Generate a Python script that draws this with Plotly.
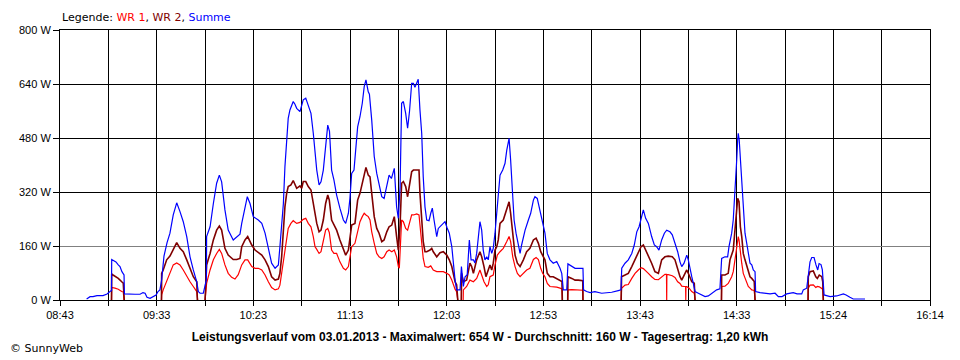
import plotly.graph_objects as go

# ---------------- data ----------------
x_labels = ["08:43", "09:33", "10:23", "11:13", "12:03", "12:53", "13:43", "14:33", "15:24", "16:14"]
y_ticks = [0, 160, 320, 480, 640, 800]
y_labels = ["0 W", "160 W", "320 W", "480 W", "640 W", "800 W"]

series_names = ["WR 1", "WR 2", "Summe"]
series_colors = ["#FF0000", "#800000", "#0000FF"]

# times in minutes after midnight, power in W
summe_t = [536.8, 538.6, 540.1, 542.2, 545.3, 547.4, 548.9, 549.7, 549.8, 550.5, 552.0, 553.1, 554.1, 555.1, 556.2, 556.4, 558.3, 561.9, 564.5, 566.0, 567.1, 568.1, 569.7, 571.2, 572.8, 573.8, 574.8, 575.7, 576.9, 578.5, 580.0, 581.7, 583.5, 585.2, 586.9, 588.7, 590.4, 592.1, 593.9, 594.7, 595.6, 597.3, 598.2, 598.9, 599.0, 600.8, 602.5, 604.2, 605.6, 606.8, 608.5, 610.2, 612.8, 614.6, 616.3, 617.2, 618.9, 620.1, 621.5, 623.2, 625.8, 627.6, 629.3, 630.2, 631.0, 631.9, 632.7, 634.5, 636.2, 637.0, 638.8, 639.6, 640.5, 641.3, 642.2, 643.9, 644.8, 645.7, 647.4, 649.1, 650.4, 651.7, 653.1, 654.3, 655.2, 656.1, 657.3, 658.3, 659.5, 660.7, 661.8, 662.7, 663.8, 665.0, 666.4, 668.1, 669.9, 671.1, 672.5, 673.3, 674.2, 675.4, 677.3, 678.5, 679.7, 680.7, 681.6, 682.8, 683.4, 684.6, 685.9, 687.2, 688.4, 689.8, 691.0, 692.4, 693.6, 694.8, 696.3, 697.5, 698.4, 699.3, 700.1, 701.0, 702.2, 703.2, 704.2, 705.3, 706.2, 707.0, 708.7, 709.6, 710.5, 711.3, 712.2, 713.1, 714.3, 715.2, 716.0, 716.9, 718.3, 719.1, 720.9, 722.6, 723.6, 724.8, 726.1, 726.9, 727.8, 728.6, 730.4, 731.1, 732.1, 733.0, 734.1, 735.2, 736.1, 737.3, 738.1, 739.0, 739.8, 740.7, 741.6, 742.4, 743.3, 744.2, 745.0, 745.9, 746.8, 747.6, 748.5, 749.4, 750.2, 751.1, 752.5, 753.7, 754.6, 755.8, 756.6, 757.5, 758.4, 759.4, 760.6, 761.5, 762.3, 763.2, 764.1, 765.8, 767.0, 768.4, 769.2, 770.4, 771.8, 773.2, 774.4, 775.6, 777.0, 778.7, 780.5, 782.2, 783.1, 783.9, 785.7, 786.3, 788.3, 790.0, 791.7, 793.4, 794.1, 794.4, 796.0, 797.8, 800.3, 803.8, 809.0, 812.4, 813.8, 814.2, 815.9, 817.6, 819.4, 820.7, 822.0, 823.2, 824.6, 825.4, 826.6, 828.0, 829.7, 831.1, 832.3, 833.5, 834.9, 836.3, 837.5, 839.2, 840.4, 841.8, 843.2, 844.4, 845.3, 846.5, 847.9, 848.7, 849.6, 850.5, 851.3, 852.2, 853.9, 855.7, 857.4, 859.1, 860.8, 863.4, 865.1, 866.0, 867.7, 869.1, 869.8, 871.2, 872.0, 872.9, 873.8, 874.3, 874.6, 875.1, 875.7, 876.4, 877.2, 878.1, 879.0, 879.8, 880.7, 881.6, 882.4, 883.3, 883.6, 885.9, 888.5, 891.1, 893.7, 895.4, 897.3, 899.7, 903.1, 905.1, 907.5, 908.3, 910.1, 910.9, 911.8, 912.7, 913.9, 914.9, 915.8, 916.5, 917.5, 918.2, 918.7, 919.1, 922.2, 925.6, 929.1, 930.5, 932.5, 934.2, 940.3]
summe_w = [3, 10, 10, 13, 13, 18, 25, 28, 120, 118, 113, 105, 99, 84, 74, 18, 17, 17, 17, 22, 20, 8, 5, 10, 15, 25, 30, 60, 130, 170, 198, 252, 288, 262, 232, 188, 128, 89, 54, 25, 20, 20, 44, 60, 188, 217, 286, 346, 370, 350, 267, 207, 178, 186, 195, 227, 276, 306, 286, 247, 237, 227, 198, 173, 153, 128, 109, 94, 104, 158, 286, 395, 474, 538, 563, 588, 580, 568, 558, 593, 598, 578, 553, 494, 425, 385, 341, 350, 385, 464, 518, 500, 385, 356, 311, 272, 237, 227, 257, 301, 375, 385, 513, 543, 583, 632, 652, 617, 610, 533, 425, 375, 341, 306, 301, 341, 370, 360, 390, 276, 242, 336, 583, 588, 553, 509, 560, 642, 642, 630, 654, 563, 494, 365, 276, 237, 235, 257, 272, 237, 188, 212, 222, 232, 215, 198, 158, 99, 59, 30, 30, 99, 40, 69, 75, 178, 119, 119, 110, 138, 178, 232, 207, 148, 119, 128, 119, 158, 138, 153, 198, 257, 296, 370, 385, 405, 444, 479, 415, 316, 237, 198, 158, 138, 163, 188, 207, 237, 257, 296, 306, 301, 262, 227, 198, 138, 119, 109, 114, 94, 79, 30, 30, 107, 99, 94, 94, 94, 94, 30, 25, 22, 25, 20, 23, 28, 30, 94, 109, 119, 138, 163, 202, 217, 252, 267, 242, 227, 188, 163, 158, 148, 178, 198, 207, 202, 193, 168, 143, 113, 99, 109, 133, 119, 89, 69, 49, 25, 20, 15, 10, 12, 20, 30, 33, 123, 128, 128, 158, 198, 237, 316, 415, 474, 494, 474, 415, 336, 257, 198, 168, 138, 109, 104, 89, 84, 25, 22, 20, 18, 20, 10, 10, 18, 22, 18, 18, 30, 35, 69, 113, 126, 126, 104, 89, 108, 105, 89, 44, 15, 10, 12, 18, 15, 8, 3, 3]

wr2_t = [549.7, 549.8, 550.5, 551.5, 553.2, 555.0, 555.8, 556.3, None,
         575.6, 575.7, 576.5, 578.3, 580.0, 581.7, 583.5, 585.2, 586.9, 588.7, 590.4, 592.1, 593.9, 594.2, None,
         598.2, 598.4, 599.0, 600.8, 602.5, 604.2, 605.6, 606.8, 608.5, 610.2, 612.8, 614.6, 616.3, 617.2, 618.9, 620.3, 622.4, 624.1, 627.6, 629.3, 631.0, 632.7, 634.5, 636.2, 637.0, 637.9, 638.8, 639.6, 640.5, 641.3, 642.7, 643.9, 645.7, 647.4, 648.3, 649.1, 650.4, 651.7, 653.1, 654.3, 655.2, 656.1, 657.3, 658.3, 659.5, 660.7, 661.8, 662.6, 663.8, 665.0, 666.4, 668.1, 669.9, 671.1, 672.5, 673.3, 674.2, 675.9, 677.3, 678.5, 679.7, 680.7, 681.6, 682.8, 683.7, 684.6, 685.9, 687.2, 688.4, 689.8, 691.0, 692.4, 693.6, 695.0, 696.3, 697.5, 698.4, 699.3, 700.1, 701.0, 702.2, 703.2, 704.4, 705.3, 706.2, 707.9, 709.1, 709.6, 710.5, 711.3, 712.2, 713.1, 714.8, 715.7, 716.5, 718.3, 720.0, 721.7, 723.5, 724.8, 726.1, 726.9, 727.8, 728.6, 729.2, None,
         731.0, 731.2, 732.1, 733.8, 735.5, 736.4, 737.3, 739.0, 740.7, 741.6, 742.8, 743.8, 745.0, 745.9, 746.8, 747.6, 748.5, 749.4, 750.2, 751.1, 752.8, 754.6, 755.8, 756.6, 757.7, 758.9, 760.1, 761.5, 763.2, 764.9, 766.6, 768.4, 769.8, 771.0, 772.2, 773.2, 774.4, 775.6, 777.0, 778.7, 780.5, 782.2, 783.2, 783.4, None,
         786.2, 786.3, 788.3, 790.0, 791.7, 793.4, 794.0, 794.1, None,
         813.9, 814.1, 815.9, 817.6, 819.4, 821.1, 822.8, 824.2, 825.4, 826.6, 828.0, 829.7, 831.4, 833.2, 834.9, 836.6, 838.3, 840.4, 841.8, 843.2, 844.4, 845.3, 846.5, 847.9, 849.1, 850.5, 851.8, 852.2, None,
         865.9, 866.0, 867.7, 869.4, 870.3, 871.2, 872.0, 872.9, 873.8, 874.3, 875.0, 875.7, 876.4, 877.2, 878.1, 879.0, 879.8, 880.7, 881.6, 882.4, 882.9, 883.3, None,
         910.8, 910.9, 911.8, 913.5, 914.8, 915.6, 916.6, 917.9, 918.4, 918.7]
wr2_w = [0, 77, 74, 70, 64, 54, 50, 0, None,
         0, 79, 89, 119, 130, 148, 170, 153, 143, 119, 94, 69, 54, 0, None,
         0, 40, 104, 138, 178, 207, 219, 207, 153, 133, 120, 120, 123, 158, 178, 188, 163, 148, 133, 119, 99, 69, 59, 62, 79, 128, 217, 276, 316, 336, 341, 354, 331, 338, 331, 351, 351, 336, 326, 286, 247, 227, 202, 207, 237, 286, 311, 296, 237, 222, 207, 178, 148, 133, 148, 178, 222, 227, 296, 316, 346, 375, 393, 370, 365, 316, 247, 212, 198, 173, 178, 202, 217, 222, 247, 188, 148, 222, 346, 351, 336, 306, 346, 380, 385, 385, 385, 316, 237, 173, 143, 143, 148, 153, 143, 128, 140, 143, 133, 119, 99, 74, 54, 45, 0, None,
         0, 79, 54, 59, 109, 99, 79, 119, 143, 128, 99, 69, 89, 104, 89, 109, 148, 158, 178, 227, 237, 267, 291, 257, 188, 133, 109, 99, 119, 143, 153, 178, 183, 168, 143, 133, 119, 79, 69, 69, 64, 59, 55, 0, None,
         0, 69, 64, 59, 59, 57, 57, 0, None,
         0, 69, 74, 79, 99, 119, 138, 158, 163, 148, 133, 109, 84, 79, 119, 128, 130, 128, 119, 89, 69, 59, 74, 89, 74, 54, 50, 0, None,
         0, 74, 74, 79, 119, 138, 148, 207, 276, 301, 291, 217, 188, 138, 119, 99, 89, 69, 64, 59, 55, 0, None,
         0, 69, 84, 86, 69, 64, 74, 69, 54, 0]

wr1_t = [549.7, 549.8, 551.5, 553.2, 555.0, 555.8, 556.2, None,
         575.6, 575.7, 576.5, 578.3, 579.1, 580.0, 580.9, 581.7, 583.5, 585.2, 586.9, 588.7, 590.4, 592.1, 593.9, 594.4, None,
         598.2, 599.0, 600.8, 602.5, 604.2, 605.6, 606.8, 608.5, 610.2, 612.0, 613.7, 615.4, 617.2, 618.9, 620.3, 622.4, 624.1, 625.8, 627.6, 629.3, 631.0, 632.7, 634.5, 636.2, 637.0, 637.9, 638.8, 639.6, 640.5, 641.3, 642.7, 643.9, 645.7, 647.4, 649.1, 650.4, 651.7, 653.1, 654.3, 655.2, 656.1, 657.3, 658.3, 659.5, 660.7, 661.8, 662.6, 663.8, 665.0, 666.4, 668.1, 669.9, 671.1, 672.5, 673.3, 674.2, 675.9, 677.3, 678.5, 679.7, 680.7, 681.6, 682.8, 683.7, 684.6, 685.9, 687.2, 688.4, 689.8, 691.0, 692.4, 693.6, 695.0, 696.3, 697.5, 698.4, 698.9, 699.6, 700.1, 701.0, 702.2, 703.2, 704.4, 705.3, 706.2, 707.9, 709.1, 709.6, 710.5, 711.3, 712.2, 713.9, 715.2, 716.5, 718.3, 720.0, 721.7, 723.5, 724.8, 726.1, 726.9, 727.8, 728.6, 729.2, None,
         732.0, 732.1, 733.8, 735.5, 737.3, 739.0, 740.7, 741.6, 742.8, 744.2, 745.0, 745.9, 747.6, 748.5, 749.7, 751.1, 752.8, 754.6, 755.8, 756.6, 757.7, 758.9, 760.1, 761.5, 763.2, 764.9, 766.6, 768.4, 769.8, 771.0, 772.2, 773.2, 774.4, 775.6, 777.0, 778.7, 780.5, 782.2, 783.2, 783.4, None,
         786.2, 786.3, 788.3, 790.0, 791.7, 793.4, 794.0, 794.1, None,
         813.9, 814.1, 815.9, 817.6, 819.4, 821.1, 822.8, 824.2, 825.4, 826.6, 828.0, 829.7, 831.4, 833.2, 834.9, 836.6, 837.4, 837.5, 837.6, 838.3, 840.4, 841.8, 843.2, 844.4, 845.3, 846.5, 847.3, 847.4, 847.5, 847.9, 849.1, 850.5, 851.8, 852.2, None,
         865.9, 866.0, 867.7, 869.4, 871.2, 872.0, 872.9, 873.8, 874.6, 875.0, 875.7, 876.4, 877.2, 878.1, 879.0, 879.8, 880.7, 881.6, 882.4, 882.9, 883.3, None,
         910.8, 910.9, 911.8, 913.5, 914.8, 915.6, 916.6, 917.9, 918.4, 918.7]
wr1_w = [0, 37, 35, 32, 25, 24, 0, None,
         0, 15, 30, 54, 69, 79, 94, 104, 110, 104, 89, 69, 54, 40, 25, 0, None,
         0, 49, 89, 119, 138, 150, 138, 104, 79, 67, 62, 75, 104, 119, 119, 99, 94, 94, 89, 74, 54, 37, 30, 33, 44, 79, 119, 158, 188, 212, 227, 235, 227, 230, 239, 242, 227, 217, 188, 158, 150, 138, 143, 178, 207, 212, 200, 148, 138, 138, 113, 94, 89, 99, 123, 158, 168, 202, 232, 247, 257, 252, 247, 237, 202, 168, 138, 128, 123, 128, 143, 148, 143, 148, 128, 99, 94, 178, 237, 232, 212, 207, 232, 252, 252, 255, 252, 217, 158, 123, 99, 97, 101, 89, 84, 84, 84, 79, 74, 59, 44, 32, 25, 0, None,
         0, 30, 40, 59, 54, 64, 89, 74, 54, 40, 45, 69, 74, 104, 133, 143, 153, 173, 188, 173, 128, 99, 79, 69, 79, 89, 94, 120, 126, 120, 94, 79, 69, 49, 40, 40, 38, 35, 33, 0, None,
         0, 30, 31, 30, 29, 29, 29, 0, None,
         0, 35, 44, 46, 64, 79, 89, 96, 93, 85, 79, 69, 61, 60, 69, 76, 76, 0, 75, 75, 72, 67, 54, 49, 41, 40, 40, 0, 40, 40, 35, 25, 20, 0, None,
         0, 40, 41, 49, 69, 84, 119, 158, 188, 178, 138, 109, 79, 64, 49, 40, 35, 30, 29, 28, 0, None,
         0, 35, 44, 45, 37, 40, 39, 35, 32, 0]

assert len(summe_t) == len(summe_w), (len(summe_t), len(summe_w))
assert len(wr1_t) == len(wr1_w), (len(wr1_t), len(wr1_w))
assert len(wr2_t) == len(wr2_w), (len(wr2_t), len(wr2_w))

title_text = "Leistungsverlauf vom 03.01.2013 - Maximalwert: 654 W - Durchschnitt: 160 W - Tagesertrag: 1,20 kWh"

# ---------------- axis helpers ----------------
def to_min(s):
    h, m = s.split(":")
    return int(h) * 60 + int(m)

t0, t1 = to_min(x_labels[0]), to_min(x_labels[-1])
n_steps = 2 * (len(x_labels) - 1)
x_tickvals = [t0 + k * (t1 - t0) / n_steps for k in range(n_steps + 1)]
x_ticktext = [x_labels[k // 2] if k % 2 == 0 else "" for k in range(n_steps + 1)]

FONT = "Liberation Sans, Arial, sans-serif"
FONT_WIDE = "DejaVu Sans, Verdana, sans-serif"

# the page body adds an 8 px offset; size the figure so the plot area lands right
W, H = 952, 352
ML, MR, MT, MB = 52, 30, 22, 60

fig = go.Figure()
for t, w, name, color, width in [
    (wr1_t, wr1_w, series_names[0], series_colors[0], 1.2),
    (wr2_t, wr2_w, series_names[1], series_colors[1], 1.6),
    (summe_t, summe_w, series_names[2], series_colors[2], 1.2),
]:
    fig.add_trace(go.Scatter(x=t, y=w, mode="lines", name=name,
                             line=dict(color=color, width=width),
                             connectgaps=False, hoverinfo="skip"))

# empty traces so the overlay grid axes exist
fig.add_trace(go.Scatter(x=[], y=[], yaxis="y2", showlegend=False, hoverinfo="skip"))
fig.add_trace(go.Scatter(x=[], y=[], yaxis="y3", showlegend=False, hoverinfo="skip"))

legend_html = "Legende: " + ", ".join(
    f"<span style='color:{c}'>{n}</span>" for n, c in zip(series_names, series_colors))

fig.update_layout(
    width=W, height=H,
    margin=dict(l=ML, r=MR, t=MT, b=MB),
    paper_bgcolor="white", plot_bgcolor="white",
    showlegend=False,
    font=dict(family=FONT, size=11, color="black"),
    title=dict(text=f"<b>{title_text}</b>", x=472 / W, xref="container", xanchor="center",
               y=1 - 329 / H, yref="container", yanchor="middle",
               font=dict(family=FONT, size=12, color="black")),
    xaxis=dict(range=[t0, t1], tickvals=x_tickvals, ticktext=x_ticktext,
               ticks="outside", ticklen=5, tickcolor="black", tickwidth=1,
               showgrid=True, gridcolor="black", gridwidth=1,
               showline=True, linecolor="black", linewidth=1, mirror=True,
               zeroline=False, tickfont=dict(family=FONT, size=11, color="black")),
    yaxis=dict(range=[0, 800], tickvals=y_ticks, ticktext=y_labels,
               ticks="outside", ticklen=6, tickcolor="black", tickwidth=1,
               showgrid=False, showline=True, linecolor="black", linewidth=1, mirror=True,
               zeroline=False, tickfont=dict(family=FONT, size=11, color="black")),
    yaxis2=dict(range=[0, 800], overlaying="y", anchor="x", tickvals=y_ticks[2:],
                showgrid=True, gridcolor="black", gridwidth=1, showticklabels=False,
                ticks="", showline=False, zeroline=False),
    yaxis3=dict(range=[0, 800], overlaying="y", anchor="x", tickvals=[y_ticks[1]],
                showgrid=True, gridcolor="#808080", gridwidth=1, showticklabels=False,
                ticks="", showline=False, zeroline=False),
    annotations=[
        dict(text=legend_html, xref="paper", yref="paper", x=0, y=1,
             xanchor="left", yanchor="bottom", yshift=4, showarrow=False,
             font=dict(family=FONT_WIDE, size=11, color="black")),
        dict(text="© SunnyWeb", xref="paper", yref="paper", x=-ML / 870, y=-(340 - 292) / 270,
             xanchor="left", yanchor="middle", showarrow=False,
             font=dict(family=FONT_WIDE, size=11, color="black")),
    ],
)

fig.write_html("out.html")
